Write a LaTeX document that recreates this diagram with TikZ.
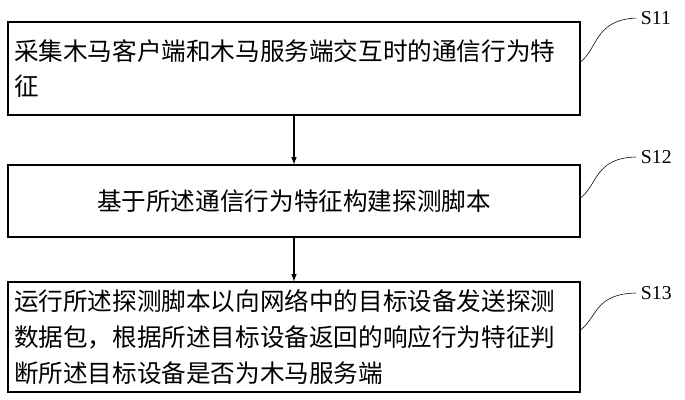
\documentclass[tikz,border=0pt]{standalone}
\usepackage{fontspec}
\setmainfont{Liberation Serif}
\newfontfamily\cjk{Noto Sans CJK SC}
\usetikzlibrary{positioning}
\begin{document}
\begin{tikzpicture}[x=0.025cm,y=-0.025cm,
  stepbox/.style={draw,thick,minimum width=572*0.025cm,inner sep=0pt,font=\cjk\fontsize{17.5}{25.5}\selectfont},
  steplabel/.style={font=\fontsize{14}{16}\selectfont,anchor=west},
  flow/.style={-latex,thick}]

  \useasboundingbox (0,0) rectangle (685,400);

  \node[stepbox,minimum height=93*0.025cm,align=left,text width=560*0.025cm] (s11) at (294,68.5)
    {采集木马客户端和木马服务端交互时的通信行为特\\征};
  \node[stepbox,minimum height=72*0.025cm] (s12) at (294,201)
    {基于所述通信行为特征构建探测脚本};
  \node[stepbox,minimum height=110*0.025cm,align=left,text width=560*0.025cm] (s13) at (294,337)
    {运行所述探测脚本以向网络中的目标设备发送探测\\数据包，根据所述目标设备返回的响应行为特征判\\断所述目标设备是否为木马服务端};

  \draw[flow] (s11) -- (s12);
  \draw[flow] (s12) -- (s13);

  \node[steplabel] (l11) at (636,18) {S11};
  \node[steplabel] (l12) at (636,157) {S12};
  \node[steplabel] (l13) at (636,293) {S13};

  \draw (s11.east |- 0,62) .. controls (598,48) and (595,20) .. (l11.west);
  \draw (s12.east |- 0,198) .. controls (598,184) and (595,158) .. (l12.west);
  \draw (s13.east |- 0,330) .. controls (598,316) and (595,294) .. (l13.west);

\end{tikzpicture}
\end{document}
